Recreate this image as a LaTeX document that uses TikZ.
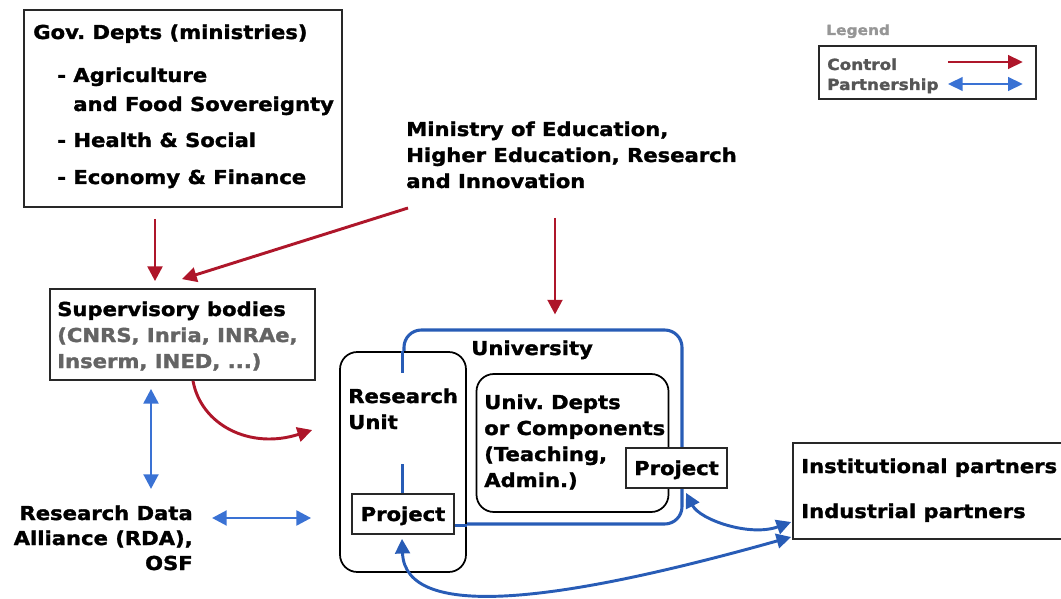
\documentclass[tikz,border=0pt]{standalone}
\usepackage{fontspec}
\setmainfont{DejaVu Sans}[FakeStretch=1.1, BoldFeatures={FakeBold=1.5}]
\usetikzlibrary{arrows.meta,calc}
\frenchspacing
\definecolor{ctrlred}{RGB}{174,22,42}
\definecolor{partblue}{RGB}{58,114,212}
\definecolor{unblue}{RGB}{40,92,182}
\definecolor{graytxt}{RGB}{100,100,100}
\definecolor{legendgray}{RGB}{150,150,150}
\definecolor{legtxt}{RGB}{85,85,85}
\definecolor{boxline}{RGB}{40,40,40}
\newcommand\mysz{\fontsize{14.4}{17}\selectfont}
\newcommand\legsz{\fontsize{11.5}{13}\selectfont}
\begin{document}
\begin{tikzpicture}[x=0.75pt,y=-0.75pt,
  t/.style={anchor=base west, inner sep=0pt, font=\bfseries\mysz, text=black},
  tg/.style={t, text=graytxt},
  box/.style={draw=boxline, line width=1.3pt, fill=white, inner sep=0pt},
  sz/.style 2 args={minimum width=#1*0.75pt, minimum height=#2*0.75pt},
  rbox/.style={box, draw=black, rounded corners=13pt},
  ctrl/.style={draw=ctrlred, line width=2.2pt, -{Triangle[length=11pt,width=11pt]}},
  part/.style={draw=partblue, line width=2.2pt, {Triangle[length=11pt,width=11pt]}-{Triangle[length=11pt,width=11pt]}},
  partd/.style={part, draw=unblue},
  unib/.style={draw=unblue, line width=2.3pt},
  projbox/.style={box, font=\bfseries\mysz, text height=10.5pt, text depth=0pt},
  lt/.style={anchor=base west, inner sep=0pt, font=\bfseries\legsz, text=legtxt}
]
\useasboundingbox (0,0) rectangle (1061,599);
\clip (0,0) rectangle (1061,599);

% Government departments
\node[box, sz={318}{197}] (gov) at (183,108.5) {};
\node[t] (gov1) at (33,39) {Gov. Depts (ministries)};
\node[t] (gov2) at (57,82) {- Agriculture};
\node[t] (gov3) at (73,111) {and Food Sovereignty};
\node[t] (gov4) at (57,147) {- Health \& Social};
\node[t] (gov5) at (57,184) {- Economy \& Finance};

% Ministry of Education
\node[t] (min1) at (406,136) {Ministry of Education,};
\node[t] (min2) at (406,162) {Higher Education, Research};
\node[t] (min3) at (406,188) {and Innovation};

% Supervisory bodies
\node[box, sz={265}{91}] (sup) at (182.5,334.5) {};
\node[t] (sup1) at (57,316) {Supervisory bodies};
\node[tg] (sup2) at (57,342) {(CNRS, Inria, INRAe,};
\node[tg] (sup3) at (57,368) {Inserm, INED, ...)};

% Research Data Alliance
\node[t, anchor=base east] (rda1) at (193,520) {Research Data};
\node[t, anchor=base east] (rda2) at (193,545) {Alliance (RDA),};
\node[t, anchor=base east] (rda3) at (193,570) {OSF};

% University and research unit
\node[unib, rounded corners=13pt, sz={278}{194}, inner sep=0pt] (uni) at (543,427) {};
\node[rbox, sz={126}{220}] (ru) at (403,462) {};
\node[rbox, sz={192}{138}] (depts) at (572.5,443) {};
\node[projbox, sz={102}{40}] (projL) at (403,514) {Project};
\draw[unib] (uni.west |- ru.north) -- ($(uni.west |- ru.north)+(0,22)$);
\draw[unib] ($(uni.west |- projL.north)+(0,-29)$) -- (uni.west |- projL.north);
\draw[unib] (projL.east |- uni.south) -- (ru.east |- uni.south);
\node[projbox, sz={101}{40}] (projR) at (676.5,468) {Project};
\node[t] (unilbl) at (471,355) {University};
\node[t] (ru1) at (348,403) {Research};
\node[t] (ru2) at (348,429) {Unit};
\node[t] (dep1) at (484,409) {Univ. Depts};
\node[t] (dep2) at (484,435) {or Components};
\node[t] (dep3) at (484,461) {(Teaching,};
\node[t] (dep4) at (484,487) {Admin.)};

% Partners
\node[box, sz={284}{96}] (partners) at (935,491) {};
\node[t] (par1) at (801,473) {Institutional partners};
\node[t] (par2) at (801,518) {Industrial partners};

% Legend
\node[t, font=\bfseries\fontsize{10.5}{12}\selectfont, text=legendgray] (leglbl) at (826,35) {Legend};
\node[box, sz={217}{53}] (leg) at (927.5,72.5) {};
\node[lt] (legc) at (827,70) {Control};
\node[lt] (legp) at (827,90) {Partnership};
\draw[draw=ctrlred, line width=2pt, -{Triangle[length=11pt,width=10pt]}]
  ($(leg.east)+(-89,-10.5)$) -- ($(leg.east)+(-14,-10.5)$);
\draw[draw=partblue, line width=2pt, {Triangle[length=11pt,width=10pt]}-{Triangle[length=11pt,width=10pt]}]
  ($(leg.east)+(-89,11.5)$) -- ($(leg.east)+(-14,11.5)$);

% Control connectors
\draw[ctrl] ($(gov.south)+(-28,11)$) -- ($(sup.north)+(-27.5,-7)$);
\draw[ctrl] ($(min3.base west)+(2,20)$) -- ($(sup.north)+(-0.5,-9)$);
\draw[ctrl] ($(min3.base west)+(149,30)$) -- ($(uni.north)+(12,-14)$);
\coordinate (supin) at ($(ru.west)+(-27,-32)$);
\draw[ctrl] ($(sup.south)+(10.5,0)$) .. controls (201,425) and (250,450) .. (supin);

% Partnership connectors
\draw[part] ($(sup.south)+(-31.5,8)$) -- ($(rda1.base east)+(-42,-31)$);
\coordinate (rdain) at ($(ru.west)+(-28,56)$);
\draw[part] ($(rda1.base east)+(19,-2)$) -- (rdain);
\draw[partd] ($(projR.south)+(9.5,4)$) .. controls (700,520) and (750,537) .. ($(partners.west)+(-1,31)$);
\draw[partd] ($(projL.south)+(-1,4)$) .. controls (405,622) and (560,602) .. ($(partners.west)+(-1,46)$);
\end{tikzpicture}
\end{document}
